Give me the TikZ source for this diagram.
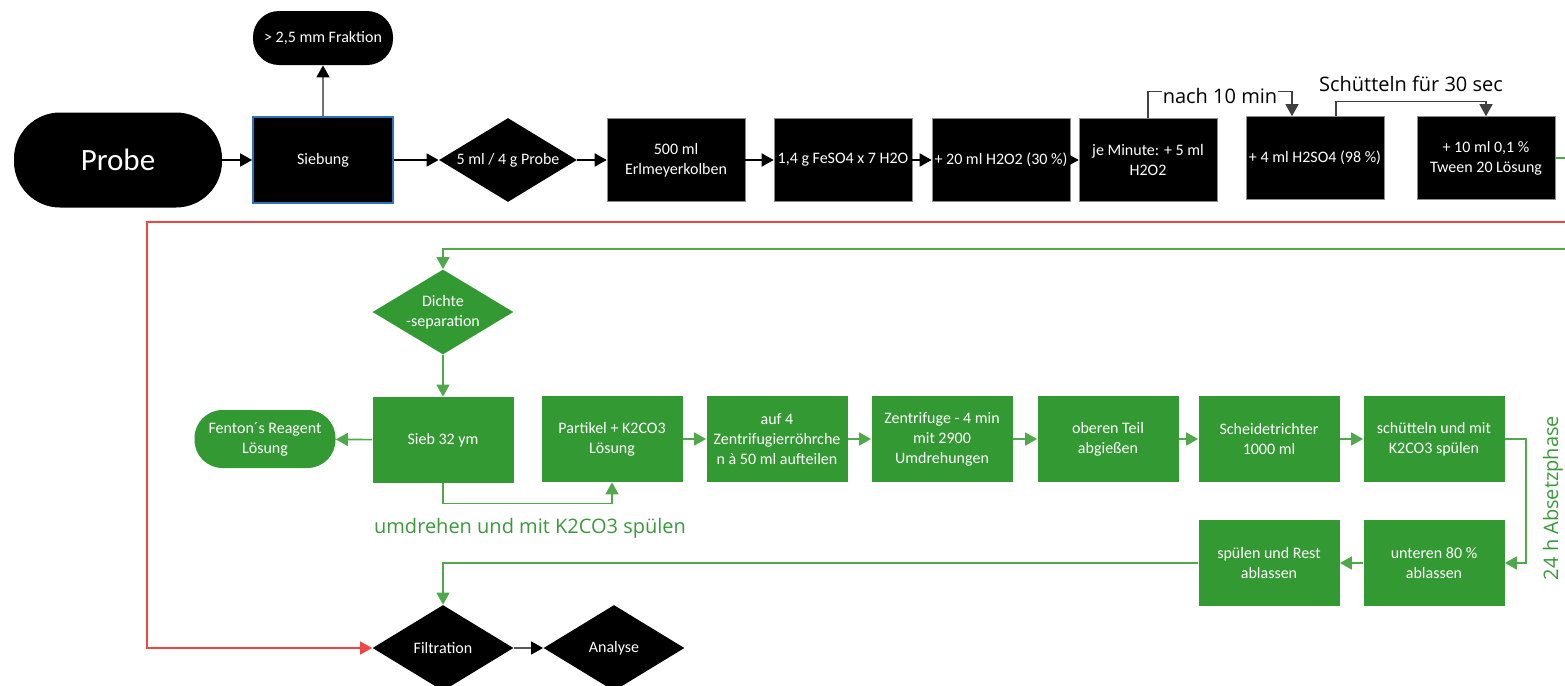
\documentclass[tikz,border=0pt]{standalone}
\usepackage{fontspec}
\setmainfont{Carlito}
\newfontfamily\notefont{Open Sans}
\usepackage{tikz}
\usetikzlibrary{arrows.meta,shapes.geometric}
\definecolor{boxgreen}{HTML}{339933}
\definecolor{linegreen}{HTML}{4FA84A}
\definecolor{notegreen}{HTML}{3A9A3A}
\definecolor{linered}{HTML}{EE4545}
\definecolor{sieveblue}{HTML}{2A72C4}

\begin{document}
\begin{tikzpicture}[x=0.5pt,y=-0.5pt,
    >={Triangle[length=6pt,width=6.5pt]},
    boxtext/.style={text=white,align=center,font=\fontsize{8}{10}\selectfont,inner sep=1pt},
    blackbox/.style={boxtext,rectangle,fill=black,draw=black!45,line width=0.3pt,minimum width=69pt,minimum height=41.5pt},
    greenbox/.style={boxtext,rectangle,fill=boxgreen,minimum width=70.5pt,minimum height=43pt},
    blackdia/.style={boxtext,diamond,aspect=1.65,fill=black,inner sep=0pt,minimum width=69pt,minimum height=42pt},
    greendia/.style={boxtext,diamond,aspect=1.65,fill=boxgreen,inner sep=0pt,minimum width=70.5pt,minimum height=42.5pt},
    blackline/.style={draw=black,line width=0.8pt,->},
    greenline/.style={draw=linegreen,line width=0.8pt,->},
    redline/.style={draw=linered,line width=0.8pt,->},
    note/.style={font=\notefont\fontsize{10}{12}\selectfont}
  ]
    \useasboundingbox (0,0) rectangle (1565,686);
    \clip (0,0) rectangle (1565,686);

    \node (probe) at (118,160) [boxtext,fill=black,rounded corners=23pt,minimum width=104pt,minimum height=47.5pt,font=\fontsize{15.5}{18}\selectfont]{Probe};
    \node (siebung) at (323,160) [blackbox,draw=sieveblue,line width=0.8pt,minimum width=70pt,minimum height=43pt]{Siebung};
    \node (fraktion) at (323,38) [boxtext,fill=black,rounded corners=13pt,minimum width=70pt,minimum height=27pt]{> 2,5 mm Fraktion};
    \node (menge) at (508,160) [blackdia]{5 ml / 4 g Probe};
    \node (kolben) at (676,160) [blackbox]{500 ml\\Erlmeyerkolben};
    \node (feso) at (843,160) [blackbox]{1,4 g FeSO4 x 7 H2O};
    \node (hzwei) at (1001,160) [blackbox]{+ 20 ml H2O2 (30 \%)};
    \node (jemin) at (1148,160) [blackbox]{je Minute: + 5 ml\\H2O2};
    \node (hso) at (1315,158) [blackbox]{+ 4 ml H2SO4 (98 \%)};
    \node (tween) at (1486,158) [blackbox]{+ 10 ml 0,1 \%\\Tween 20 Lösung};

    \node (dichte) at (443,312) [greendia]{Dichte\\-separation};
    \node (sieb) at (443,440) [greenbox]{Sieb 32 ym};
    \node (fenton) at (265,439) [boxtext,fill=boxgreen,rounded corners=14pt,minimum width=70.5pt,minimum height=29pt]{Fenton´s Reagent\\Lösung};
    \node (partikel) at (612,439) [greenbox]{Partikel + K2CO3\\Lösung};
    \node (aufvier) at (777,439) [greenbox]{auf 4\\Zentrifugierröhrche\\n à 50 ml aufteilen};
    \node (zentri) at (942,439) [greenbox]{Zentrifuge - 4 min\\mit 2900\\Umdrehungen};
    \node (oberen) at (1108,439) [greenbox]{oberen Teil\\abgießen};
    \node (scheide) at (1269,439) [greenbox]{Scheidetrichter\\1000 ml};
    \node (schuett) at (1434,439) [greenbox]{schütteln und mit\\K2CO3 spülen};
    \node (unteren) at (1434,563) [greenbox]{unteren 80 \%\\ablassen};
    \node (spuelen) at (1269,563) [greenbox]{spülen und Rest\\ablassen};

    \node (filt) at (443,648) [blackdia,minimum width=70.5pt,minimum height=43pt]{Filtration};
    \node (analyse) at (614,648) [blackdia,minimum width=70.5pt,minimum height=43pt]{Analyse};

    \node (umdreh) at (530,528) [note,text=notegreen]{umdrehen und mit K2CO3 spülen};
    \node (absetz) at (1553,498) [note,text=notegreen,rotate=90]{24 h Absetzphase};

    \coordinate (redin) at (1600,222);

    \draw[blackline] (probe) -- (siebung);
    \draw[draw=black!55,line width=0.8pt,-{Triangle[length=6pt,width=6.5pt,color=black]}] (siebung) -- (fraktion);
    \draw[blackline] (siebung) -- (menge);
    \draw[blackline] (menge) -- (kolben);
    \draw[blackline] (kolben) -- (feso);
    \draw[blackline] (feso) -- (hzwei);
    \draw[blackline] (hzwei) -- (jemin);
    \draw[draw=black!75,line width=0.6pt,->] (jemin.north) -- ++(0,-27) -| node[pos=0.25,note,fill=white,inner sep=0.5pt,yshift=-2.5pt]{nach 10 min} ([xshift=-11.5pt]hso.north);
    \draw[draw=black!75,line width=0.6pt,->] ([xshift=10.5pt]hso.north) -- ++(0,-15) -| node[pos=0.25,note,above=1pt]{Schütteln für 30 sec} (tween.north);

    \draw[greenline] (tween.east) -- ++(45,0) -- ++(0,91) -| (dichte.north);
    \draw[redline] (redin) -- (147,222) |- (filt.west);

    \draw[greenline] (dichte) -- (sieb);
    \draw[greenline] (sieb) -- (fenton);
    \draw[greenline] (sieb.south) -- ++(0,20) -| (partikel.south);
    \draw[greenline] (partikel) -- (aufvier);
    \draw[greenline] (aufvier) -- (zentri);
    \draw[greenline] (zentri) -- (oberen);
    \draw[greenline] (oberen) -- (scheide);
    \draw[greenline] (scheide) -- (schuett);
    \draw[greenline] (schuett.east) -- ++(21,0) |- (unteren.east);
    \draw[greenline] (unteren) -- (spuelen);
    \draw[greenline] (spuelen.west) -| (filt.north);

    \draw[draw=black!65,line width=0.8pt,-{Triangle[length=6pt,width=6.5pt,color=black]}] (filt) -- (analyse);
  \end{tikzpicture}
\end{document}
